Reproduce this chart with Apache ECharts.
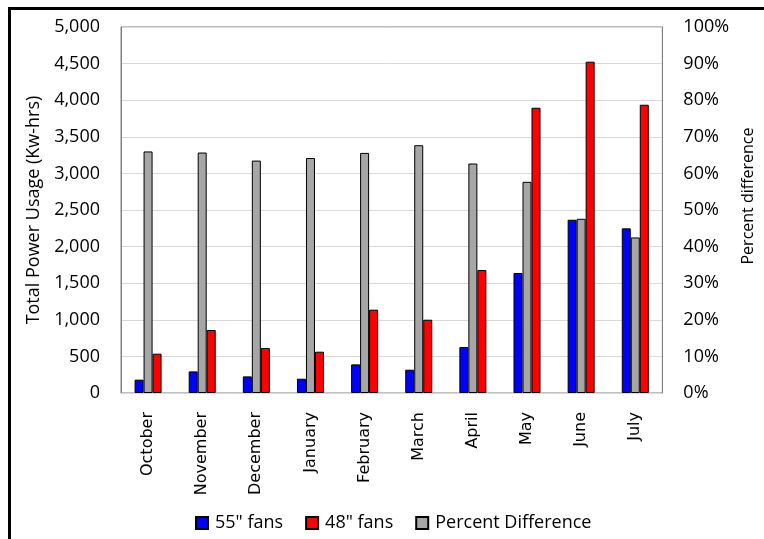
<!DOCTYPE html>
<html>
<head>
<meta charset="utf-8">
<script src="https://cdn.jsdelivr.net/npm/echarts@6/dist/echarts.min.js"></script>
<style>
  html, body { margin: 0; padding: 0; background: #fff; }
  #chart { width: 764px; height: 539px; }
</style>
</head>
<body>
<div id="chart"></div>
<script>
// Monthly energy use for two fan sizes, plus the percent difference between them
const months = ['October', 'November', 'December', 'January', 'February', 'March', 'April', 'May', 'June', 'July'];
const fans55 = [182, 295, 227, 195, 391, 318, 628, 1639, 2367, 2249];
const fans48 = [537, 861, 615, 564, 1138, 1001, 1680, 3897, 4526, 3938];
const percentDiff = [66.0, 65.7, 63.5, 64.2, 65.6, 67.7, 62.7, 57.7, 47.6, 42.5];

const leftTicks = { min: 0, max: 5000, interval: 500 };
const rightTicks = { min: 0, max: 100, interval: 10 };

const labelFont = 'Open Sans';
const chart = echarts.init(document.getElementById('chart'), null, { renderer: 'canvas' });

const barBorder = { borderColor: '#000', borderWidth: 1 };

chart.setOption({
  animation: false,
  backgroundColor: '#fff',
  textStyle: { fontFamily: labelFont, color: '#000' },
  grid: {
    left: 121, right: 100, top: 27, bottom: 146,
    show: true, borderColor: '#808080', borderWidth: 1
  },
  legend: {
    data: ['55" fans', '48" fans', 'Percent Difference'],
    left: 190, top: 509,
    icon: 'rect', itemWidth: 12, itemHeight: 12, itemGap: 22,
    textStyle: { fontFamily: labelFont, fontSize: 18, color: '#000', padding: [0, 0, 0, 2] }
  },
  xAxis: {
    type: 'category',
    data: months,
    axisLine: { lineStyle: { color: '#D9D9D9' } },
    axisTick: { show: false },
    axisLabel: {
      rotate: 90, margin: 19, color: '#000',
      fontFamily: 'DejaVu Sans', fontSize: 16
    }
  },
  yAxis: [
    {
      type: 'value', min: leftTicks.min, max: leftTicks.max, interval: leftTicks.interval,
      name: 'Total Power Usage (Kw-hrs)', nameLocation: 'middle', nameGap: 74,
      nameTextStyle: { fontFamily: labelFont, fontSize: 18, color: '#000' },
      axisLine: { show: true, lineStyle: { color: '#808080' } },
      axisTick: { show: false },
      splitLine: { lineStyle: { color: '#D9D9D9' } },
      axisLabel: {
        margin: 21, color: '#000', fontFamily: labelFont, fontSize: 18,
        formatter: v => v.toLocaleString('en-US')
      }
    },
    {
      type: 'value', min: rightTicks.min, max: rightTicks.max, interval: rightTicks.interval,
      name: 'Percent difference', nameLocation: 'middle', nameGap: 75,
      nameTextStyle: { fontFamily: labelFont, fontSize: 16, color: '#000', padding: [0, 0, 0, 28] },
      axisLine: { show: true, lineStyle: { color: '#808080' } },
      axisTick: { show: false },
      splitLine: { show: false },
      axisLabel: {
        margin: 21, color: '#000', fontFamily: labelFont, fontSize: 18,
        formatter: '{value}%'
      }
    }
  ],
  series: [
    {
      name: '55" fans', type: 'bar', yAxisIndex: 0, data: fans55,
      barWidth: 9, barGap: '0%',
      itemStyle: Object.assign({ color: '#0000FF' }, barBorder)
    },
    {
      name: 'Percent Difference', type: 'bar', yAxisIndex: 1, data: percentDiff,
      barWidth: 9, barGap: '0%',
      itemStyle: Object.assign({ color: '#A6A6A6' }, barBorder)
    },
    {
      name: '48" fans', type: 'bar', yAxisIndex: 0, data: fans48,
      barWidth: 9, barGap: '0%',
      itemStyle: Object.assign({ color: '#FF0000' }, barBorder)
    }
  ],
  graphic: [
    // frame around the chart area (top and left edges)
    { type: 'rect', shape: { x: 8, y: 7, width: 756, height: 3 }, style: { fill: '#000' }, silent: true },
    { type: 'rect', shape: { x: 8, y: 7, width: 3, height: 532 }, style: { fill: '#000' }, silent: true }
  ]
});
</script>
</body>
</html>
